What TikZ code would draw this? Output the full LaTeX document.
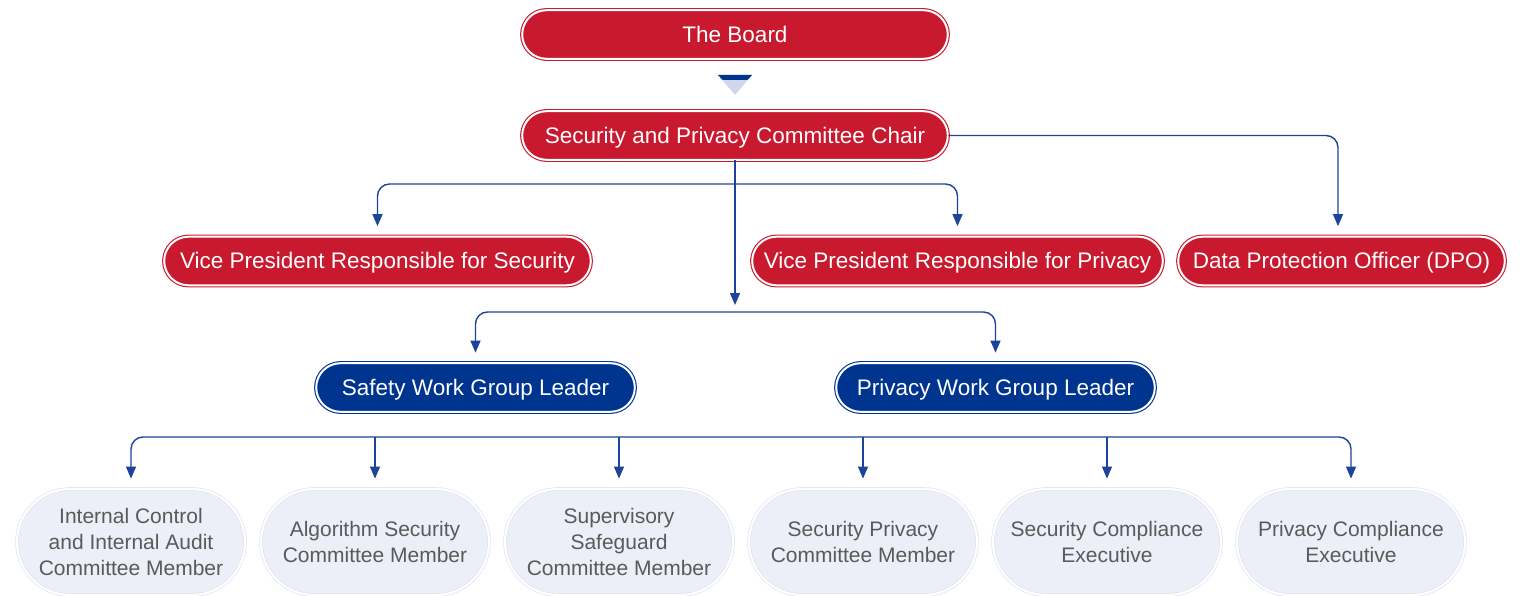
\documentclass[tikz,border=0pt]{standalone}
\usepackage{fontspec}
\setmainfont{Liberation Sans}
\usetikzlibrary{arrows.meta}
\definecolor{hred}{HTML}{C8192E}
\definecolor{hblue}{HTML}{00358F}
\definecolor{lnblue}{HTML}{1B449A}
\definecolor{pale}{HTML}{ECEFF8}
\definecolor{paleedge}{HTML}{E2E6F3}
\definecolor{tri}{HTML}{D0D7EC}
\definecolor{gtext}{HTML}{5A5A5A}
\tikzset{
  base/.style={rectangle, inner sep=0pt, line width=1.1pt, double distance=2pt,
    font=\fontsize{22.5}{27}\selectfont, text=white, text height=16pt, text depth=0pt},
  redbox/.style={base, fill=hred, draw=hred, double=white, minimum height=48.6pt, rounded corners=24.3pt},
  bluebox/.style={base, fill=hblue, draw=hblue, double=white, minimum height=48.6pt, rounded corners=24.3pt},
  member/.style={rectangle, inner sep=0pt, double distance=2pt, fill=pale, draw=paleedge, double=white, line width=0.8pt,
    minimum width=228pt, minimum height=106pt, rounded corners=53pt, text=gtext, align=center,
    font=\fontsize{21}{26.3}\selectfont},
  conn/.style={draw=lnblue, line width=1.4pt, rounded corners=12pt},
  arr/.style={conn, -{Triangle[length=12pt,width=10pt]}, shorten >=10pt},
}
\begin{document}
\begin{tikzpicture}[x=1pt,y=-1pt]
\useasboundingbox (0,0) rectangle (1521,596);
\clip (0,0) rectangle (1521,596);
% top nodes
\node[redbox, minimum width=425.6pt] (board) at (735,34.5) {The Board};
\node[redbox, minimum width=425.6pt] (chair) at (735,135.5) {Security and Privacy Committee Chair};
\node[redbox, minimum width=426.6pt] (vps) at (377.5,261) {Vice President Responsible for Security};
\node[redbox, minimum width=410.6pt] (vpp) at (957.5,261) {Vice President Responsible for Privacy};
\node[redbox, minimum width=326.6pt] (dpo) at (1341.5,261) {Data Protection Officer (DPO)};
\node[bluebox, minimum width=318.6pt] (swg) at (475.5,387.5) {Safety Work Group Leader};
\node[bluebox, minimum width=318.6pt] (pwg) at (995.5,387.5) {Privacy Work Group Leader};
% bottom members
\node[member] (m1) at (131,542) {Internal Control\\and Internal Audit\\Committee Member};
\node[member] (m2) at (375,542) {Algorithm Security\\Committee Member};
\node[member] (m3) at (619,542) {Supervisory\\Safeguard\\Committee Member};
\node[member] (m4) at (863,542) {Security Privacy\\Committee Member};
\node[member] (m5) at (1107,542) {Security Compliance\\Executive};
\node[member] (m6) at (1351,542) {Privacy Compliance\\Executive};
% decorative triangle between board and chair
\fill[tri] (718,75) -- (752,75) -- (735,95) -- cycle;
\fill[hblue] (718,75) -- (752,75) -- (747.5,80) -- (722.5,80) -- cycle;
% junction coordinates
\coordinate (jv) at (735,184);
\coordinate (jw) at (735,312);
\coordinate (jwa) at (735,305);
\coordinate (jb) at (741,437);
% connectors
\draw[conn, -{Triangle[length=12pt,width=10pt]}] (chair.south) -- (jwa);
\draw[arr] (jv) -| (vps.north);
\draw[arr] (jv) -| (vpp.north);
\draw[arr] (chair.east) -| ([xshift=-3.5pt]dpo.north);
\draw[arr] (jw) -| (swg.north);
\draw[arr] (jw) -| (pwg.north);
\draw[arr] (jb) -| (m1.north);
\draw[arr] (jb) -| (m6.north);
\draw[arr] (m2.north |- jb) -- (m2.north);
\draw[arr] (m3.north |- jb) -- (m3.north);
\draw[arr] (m4.north |- jb) -- (m4.north);
\draw[arr] (m5.north |- jb) -- (m5.north);
\end{tikzpicture}
\end{document}
